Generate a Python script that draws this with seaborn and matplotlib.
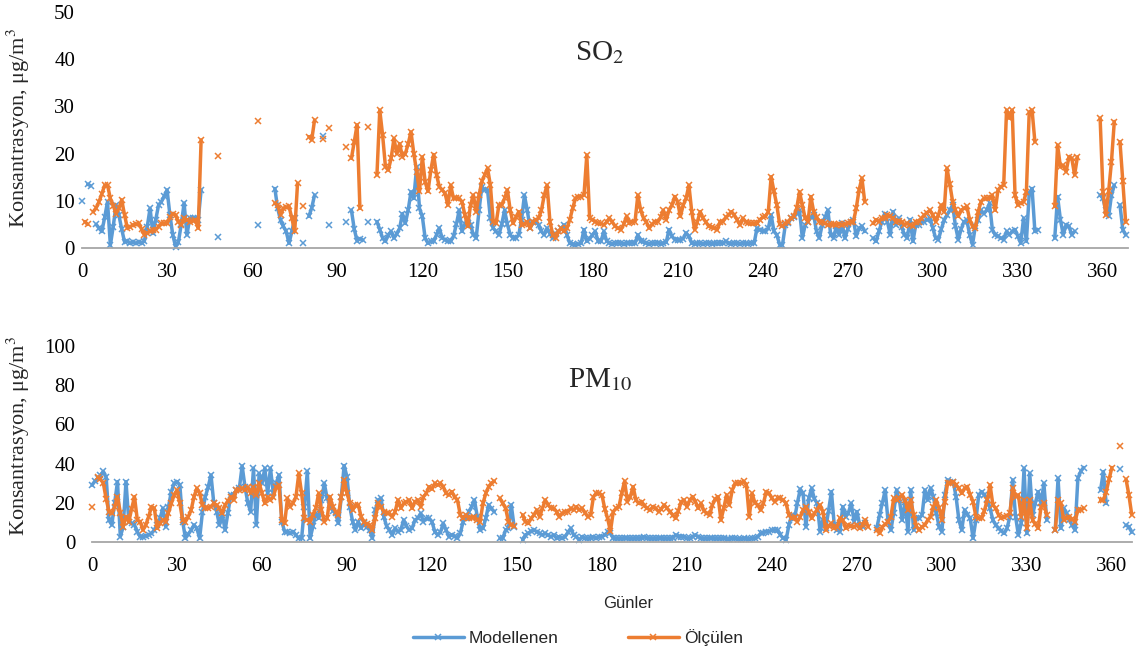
import numpy as np
import pandas as pd
import matplotlib
matplotlib.use("Agg")
import matplotlib.pyplot as plt
import seaborn as sns
from matplotlib.lines import Line2D

nan = np.nan

# ---------------- SO2 (days 0..368) ----------------
so2_model = [
    10, nan, 13.5, 13.2, nan, 5.0, 4.2, 3.5, 6.5, 9.8,
    0.6, 4.5, 9.1, 7.0, 4.0, 1.3, 1.5, 1.0, 1.2, 1.0,
    1.3, 1.0, 1.5, 4.5, 8.4, 3.1, 6.0, 9.1, 9.8, 11.0,
    12.3, 7.0, 2.8, 0.3, 1.3, 5.0, 9.5, 2.8, 6.3, 6.3,
    6.3, 6.0, 12.3, nan, nan, nan, nan, nan, 2.4, nan,
    nan, nan, nan, nan, nan, nan, nan, nan, nan, nan,
    nan, nan, 4.9, nan, nan, nan, nan, nan, 12.6, 8.4,
    5.9, 4.6, 3.5, 1.0, 3.5, 6.3, nan, nan, 1.0, nan,
    6.7, 8.5, 11.2, nan, nan, 23.7, nan, 4.9, nan, nan,
    nan, nan, nan, 5.6, nan, 8.0, 4.0, 1.5, 2.0, 1.7,
    nan, 5.6, nan, nan, 5.6, 3.9, 2.1, 1.4, 2.8, 3.5,
    2.1, 3.0, 4.2, 7.3, 5.2, 8.0, 11.9, 10.5, 17.2, 8.4,
    6.7, 2.1, 1.0, 1.4, 1.4, 2.8, 4.2, 2.1, 1.8, 1.4,
    1.4, 2.5, 5.0, 8.0, 3.5, 5.0, 6.3, 4.9, 2.8, 2.1,
    8.0, 13.0, 12.3, 12.3, 6.3, 4.2, 3.5, 2.8, 5.0, 8.0,
    5.0, 2.8, 2.1, 2.1, 2.8, 6.0, 11.2, 8.0, 4.2, 5.6,
    5.6, 4.9, 3.5, 2.8, 4.2, 3.0, 2.1, 3.0, 3.5, 4.2,
    4.9, 2.8, 1.0, 0.8, 0.7, 0.8, 1.0, 3.9, 1.4, 2.0,
    2.8, 3.5, 1.4, 1.4, 3.5, 1.5, 1.0, 0.9, 1.0, 1.1,
    1.0, 0.9, 1.0, 1.0, 1.1, 1.0, 2.8, 1.4, 1.4, 1.0,
    0.9, 1.0, 1.0, 1.1, 0.9, 1.0, 1.2, 3.9, 2.5, 1.8,
    1.8, 1.8, 2.0, 3.2, 2.5, 1.0, 0.9, 1.0, 1.0, 0.9,
    1.0, 1.0, 0.9, 1.0, 1.0, 1.1, 1.0, 1.4, 1.0, 0.9,
    1.0, 1.0, 0.9, 1.0, 1.0, 0.9, 1.0, 1.0, 4.2, 3.9,
    3.5, 3.5, 4.2, 7.0, 3.5, 2.8, 0.7, 0.7, 4.9, 5.2,
    6.3, 6.5, 7.3, 8.0, 2.1, 4.9, 5.6, 6.5, 7.0, 3.5,
    2.1, 4.9, 6.5, 8.0, 2.8, 2.1, 4.6, 2.8, 5.2, 2.1,
    4.0, 5.6, 6.0, 2.5, 4.2, 4.6, 3.5, nan, nan, 2.1,
    1.4, 3.5, 5.5, 7.3, 5.6, 2.8, 7.7, 4.9, 6.3, 4.5,
    2.8, 2.1, 6.0, 1.4, 4.9, 4.9, 5.6, 5.6, 6.0, 6.3,
    4.2, 2.1, 1.8, 4.0, 5.9, 7.0, 8.0, 9.1, 4.6, 1.8,
    4.0, 5.6, 5.9, 2.8, 0.7, 4.6, 6.0, 8.0, 7.3, 8.0,
    9.5, 3.9, 2.8, 2.5, 2.1, 1.8, 3.5, 2.8, 3.5, 3.9,
    2.5, 1.0, 6.3, 1.4, 11.6, 12.6, 3.5, 3.9, nan, nan,
    nan, nan, nan, 2.1, 10.9, 6.0, 2.8, 4.9, 4.6, 2.8,
    3.5, nan, nan, nan, nan, nan, nan, nan, nan, 11.2,
    10.5, 8.0, 6.7, 11.2, 13.3, nan, 9.1, 3.9, 2.8,
]
so2_meas = [
    nan, 5.6, 5.0, nan, 7.7, 8.5, 9.8, 11.5, 13.3, 13.3,
    10.5, 9.0, 7.3, 8.4, 10.2, 7.0, 4.2, 4.5, 4.9, 5.0,
    5.2, 4.0, 2.8, 3.2, 3.5, 3.8, 3.9, 4.5, 5.2, 5.2,
    5.2, 6.5, 7.3, 7.0, 5.5, 4.9, 6.3, 6.0, 5.6, 5.8,
    6.0, 4.2, 22.9, nan, nan, nan, nan, nan, 19.5, nan,
    nan, nan, nan, nan, nan, nan, nan, nan, nan, nan,
    nan, nan, 26.9, nan, nan, nan, nan, nan, 9.5, 9.1,
    7.0, 8.4, 8.6, 8.8, 6.3, 3.5, 13.7, nan, 8.8, nan,
    23.6, 22.9, 27.1, nan, nan, 23.0, nan, 25.4, nan, nan,
    nan, nan, nan, 21.3, nan, 19.0, 22.5, 26.1, 8.4, nan,
    nan, 25.7, nan, nan, 15.5, 29.2, 23.9, 17.2, 16.5, 19.0,
    23.2, 20.0, 22.1, 19.3, 20.0, 22.0, 24.6, 20.0, 16.2, 12.0,
    19.3, 14.0, 12.0, 16.5, 19.8, 15.5, 13.0, 12.3, 11.6, 9.1,
    13.3, 10.5, 10.5, 10.5, 9.8, 7.0, 4.6, 9.1, 11.2, 7.7,
    11.2, 14.1, 15.5, 16.9, 13.3, 5.6, 5.2, 9.1, 9.1, 10.5,
    12.3, 8.0, 5.2, 6.5, 7.7, 4.9, 5.0, 5.6, 4.2, 5.6,
    6.0, 6.3, 8.0, 11.2, 13.3, 5.6, 2.8, 2.1, 3.5, 4.2,
    3.5, 4.2, 6.0, 8.4, 10.5, 10.9, 10.9, 11.2, 19.7, 6.3,
    6.0, 5.6, 5.2, 5.2, 4.9, 5.5, 6.3, 5.5, 4.6, 4.2,
    3.9, 5.0, 6.7, 5.2, 5.6, 5.6, 11.2, 8.0, 6.3, 5.5,
    4.2, 5.0, 5.6, 5.6, 6.5, 8.0, 6.0, 8.0, 9.1, 10.9,
    9.8, 6.7, 9.1, 10.5, 13.3, 7.7, 3.9, 5.6, 7.7, 6.3,
    5.5, 4.6, 4.4, 4.2, 3.9, 5.6, 5.6, 6.5, 7.0, 7.7,
    7.0, 6.0, 4.9, 6.3, 5.6, 5.2, 5.2, 5.2, 5.2, 6.0,
    6.5, 6.7, 7.7, 15.1, 12.0, 9.1, 5.0, 4.6, 5.2, 5.6,
    6.3, 6.7, 8.4, 11.9, 9.1, 6.3, 5.6, 10.9, 7.7, 6.5,
    5.6, 5.6, 5.2, 4.9, 5.0, 5.0, 4.9, 5.0, 4.9, 5.0,
    5.2, 5.6, 5.6, 8.4, 12.3, 14.8, 9.8, nan, nan, 5.2,
    6.0, 5.6, 6.3, 6.3, 7.0, 6.7, 6.3, 5.6, 5.8, 5.6,
    4.9, 5.2, 4.9, 4.6, 5.6, 5.6, 6.3, 7.0, 7.5, 8.0,
    7.0, 5.6, 7.0, 9.1, 7.7, 16.9, 13.5, 9.8, 8.0, 6.7,
    8.0, 8.4, 8.8, 6.0, 4.6, 4.2, 7.7, 9.8, 10.5, 10.5,
    10.5, 11.2, 8.0, 12.3, 13.0, 13.3, 29.2, 27.5, 29.2, 11.2,
    9.1, 9.5, 9.8, 11.9, 28.8, 29.2, 22.5, nan, nan, nan,
    nan, nan, nan, 8.8, 21.8, 17.2, 17.5, 16.2, 19.3, 19.0,
    15.5, 19.3, nan, nan, nan, nan, nan, nan, nan, 27.5,
    11.9, 7.0, 12.0, 18.3, 26.8, nan, 22.5, 14.1, 5.5,
]

# ---------------- PM10 (days 0..367) ----------------
pm10_model = [
    29.0, 31.0, 32.5, 34.0, 36.0, 33.0, 11.2, 8.7, 20.0, 30.8,
    2.7, 7.8, 30.8, 10.4, 9.5, 8.7, 5.3, 2.7, 2.7, 3.2,
    3.6, 4.4, 6.1, 8.7, 12.0, 17.2, 7.8, 18.0, 25.7, 29.9,
    30.8, 29.1, 10.4, 1.9, 4.0, 6.1, 8.7, 7.0, 1.9, 15.5,
    23.1, 28.0, 34.2, 19.7, 15.5, 8.7, 13.8, 6.1, 15.0, 24.0,
    24.0, 26.5, 27.4, 38.8, 28.2, 20.0, 15.5, 37.6, 8.7, 35.0,
    30.0, 37.6, 24.8, 37.6, 24.8, 30.0, 34.2, 10.4, 5.3, 5.3,
    4.4, 5.3, 3.5, 1.9, 1.9, 18.0, 36.0, 1.9, 8.0, 14.6,
    12.1, 21.4, 29.9, 22.3, 18.9, 16.0, 14.6, 9.5, 23.1, 39.0,
    33.3, 18.0, 10.4, 6.1, 10.4, 7.0, 9.5, 7.5, 6.1, 1.9,
    16.3, 21.4, 22.3, 12.9, 8.0, 6.1, 3.6, 7.0, 5.3, 6.1,
    11.2, 8.0, 6.1, 7.0, 11.2, 12.1, 14.6, 10.4, 12.0, 12.1,
    10.4, 5.3, 3.6, 5.0, 9.5, 6.1, 2.7, 3.6, 3.0, 1.9,
    4.4, 10.4, 12.1, 15.5, 18.0, 21.4, 12.9, 6.1, 7.0, 12.1,
    18.9, 17.0, 15.5, nan, 1.9, 1.9, 6.1, 7.0, 18.9, 7.8,
    nan, nan, 1.0, 3.6, 4.4, 5.5, 6.1, 5.3, 4.4, 3.6,
    4.4, 3.5, 2.7, 3.6, 1.9, 2.7, 1.9, 2.7, 5.0, 7.0,
    3.6, 2.7, 1.0, 2.7, 1.9, 1.9, 1.9, 2.7, 1.9, 2.7,
    2.7, 3.6, 5.0, 4.4, 1.9, 1.9, 1.8, 1.9, 2.0, 1.9,
    1.9, 1.8, 2.0, 2.0, 1.9, 2.7, 1.9, 1.9, 1.8, 1.9,
    1.9, 2.0, 1.9, 1.8, 1.9, 2.0, 3.6, 2.7, 2.7, 2.7,
    1.9, 1.9, 2.7, 3.6, 2.7, 1.9, 1.8, 1.9, 1.9, 2.0,
    1.9, 1.8, 1.9, 1.9, 1.7, 1.6, 1.9, 1.8, 1.6, 1.7,
    1.9, 1.7, 1.6, 1.8, 1.9, 2.7, 4.4, 4.8, 5.3, 5.3,
    6.1, 6.1, 6.1, 3.6, 1.9, 1.0, 8.7, 13.8, 12.1, 20.0,
    27.0, 24.8, 7.8, 22.3, 27.4, 22.0, 19.7, 5.3, 11.2, 7.0,
    16.0, 25.7, 8.7, 6.1, 5.3, 18.0, 12.9, 15.0, 19.7, 10.4,
    15.5, 8.7, 7.8, 9.5, nan, nan, nan, 7.0, 13.8, 20.0,
    26.5, 10.4, 6.1, 15.0, 26.5, 21.4, 11.2, 20.6, 5.3, 26.5,
    6.1, 12.1, 12.1, 13.8, 26.5, 21.4, 27.4, 23.1, 15.0, 7.8,
    5.3, 24.0, 31.6, 30.8, 30.8, 23.1, 11.2, 6.1, 16.3, 14.0,
    12.1, 1.9, 11.2, 24.0, 25.7, 24.0, 22.0, 17.2, 11.2, 8.7,
    7.0, 5.6, 4.4, 7.0, 13.0, 31.6, 13.0, 3.6, 9.5, 37.6,
    4.4, 35.0, 13.8, 20.0, 25.7, 19.7, 29.9, 11.2, nan, nan,
    6.1, 32.5, 7.0, 17.2, 14.6, 11.2, 8.5, 6.1, 32.5, 36.0,
    38.0, nan, nan, nan, nan, nan, 26.5, 35.9, 19.7, nan,
    nan, nan, nan, 37.0, nan, 8.5, 7.8, 5.0,
]
pm10_meas = [
    18.0, nan, 33.0, 32.0, 30.0, 22.0, 15.5, 14.6, 18.0, 23.1,
    15.0, 7.8, 12.9, 10.4, 17.0, 23.1, 11.2, 10.4, 6.1, 8.7,
    13.0, 18.0, 17.2, 7.0, 9.5, 11.2, 10.4, 15.0, 19.7, 24.0,
    26.5, 19.7, 11.2, 10.4, 13.0, 16.3, 23.1, 27.4, 24.8, 18.9,
    17.2, 17.6, 18.0, 19.7, 18.9, 17.2, 14.6, 18.9, 21.0, 23.1,
    21.4, 26.5, 26.5, 27.4, 26.5, 28.0, 25.0, 28.0, 24.0, 30.0,
    25.0, 19.7, 23.1, 21.4, 23.1, 28.0, 29.0, 11.2, 9.5, 22.3,
    18.0, 20.0, 23.1, 35.0, 24.8, 12.1, 11.2, 10.4, 14.0, 17.2,
    24.8, 16.3, 10.4, 12.1, 23.1, 18.0, 15.5, 13.8, 23.1, 31.6,
    24.8, 20.0, 16.3, 18.9, 18.9, 12.9, 10.4, 9.0, 8.7, 6.1,
    12.1, 19.7, 18.0, 15.5, 15.0, 14.6, 12.9, 15.5, 21.4, 17.2,
    19.7, 20.5, 21.4, 17.2, 20.6, 21.4, 18.0, 23.1, 24.8, 28.2,
    27.0, 29.9, 29.0, 30.0, 28.2, 24.8, 24.0, 25.7, 23.0, 21.4,
    13.8, 12.1, 13.8, 12.1, 12.5, 12.9, 11.2, 10.4, 19.7, 24.8,
    28.2, 30.0, 31.0, nan, 22.3, 19.7, 17.2, 10.4, 8.7, 8.0,
    nan, nan, 13.8, 10.4, 9.5, 12.0, 13.8, 16.3, 12.9, 17.2,
    21.4, 19.0, 17.2, 17.2, 15.5, 12.9, 14.6, 15.5, 15.5, 17.2,
    16.3, 18.0, 16.3, 17.2, 15.0, 12.9, 13.8, 23.0, 25.0, 24.8,
    24.0, 17.0, 12.0, 5.5, 15.5, 17.2, 18.0, 25.0, 31.0, 20.6,
    23.1, 28.2, 21.4, 19.7, 20.6, 18.5, 17.2, 16.3, 18.0, 17.2,
    15.5, 17.0, 18.9, 17.2, 15.5, 13.8, 12.1, 16.0, 20.6, 21.4,
    18.0, 21.4, 23.1, 20.6, 17.2, 19.7, 16.0, 14.6, 13.8, 18.9,
    22.0, 23.1, 11.2, 17.2, 24.0, 18.9, 26.5, 29.9, 30.0, 30.0,
    31.0, 29.1, 12.9, 24.8, 20.0, 18.9, 16.3, 19.7, 25.7, 24.8,
    22.3, 20.6, 22.3, 22.3, 21.4, 19.7, 13.8, 12.1, 12.9, 10.4,
    13.0, 16.3, 18.0, 15.5, 12.1, 14.6, 16.5, 18.9, 15.5, 6.1,
    8.0, 9.5, 7.0, 7.8, 12.1, 11.2, 7.0, 8.7, 8.0, 7.8,
    8.7, 7.0, 8.7, 11.2, 7.8, nan, nan, 6.1, 4.4, 7.8,
    9.0, 10.4, 12.9, 22.3, 21.4, 22.5, 24.0, 21.4, 16.3, 21.4,
    14.0, 8.0, 6.1, 7.8, 8.7, 11.2, 12.9, 18.0, 21.4, 17.2,
    11.2, 20.6, 29.9, 29.9, 30.8, 29.1, 27.4, 24.8, 27.4, 28.2,
    24.0, 20.6, 13.0, 12.1, 12.1, 16.0, 21.4, 29.1, 18.9, 17.2,
    13.8, 12.1, 13.0, 13.5, 14.6, 27.4, 23.1, 24.0, 13.0, 21.4,
    7.0, 21.4, 11.2, 9.0, 7.0, 17.9, 19.7, 13.8, nan, nan,
    6.1, 21.4, 19.7, 11.2, 12.1, 13.0, 11.5, 10.4, 16.3, 16.3,
    17.2, nan, nan, nan, nan, nan, 21.4, 21.4, 25.7, 32.0,
    38.0, nan, nan, 49.0, nan, 32.0, 24.0, 14.0,
]

series_names = ["Modellenen", "Ölçülen"]
palette = {"Modellenen": "#5B9BD5", "Ölçülen": "#ED7D31"}
x_ticks = [0, 30, 60, 90, 120, 150, 180, 210, 240, 270, 300, 330, 360]
so2_yticks = [0, 10, 20, 30, 40, 50]
pm10_yticks = [0, 20, 40, 60, 80, 100]


def to_long(model, meas):
    rows = []
    for name, vals in zip(series_names, (model, meas)):
        seg = 0
        gap = True
        for d, v in enumerate(vals):
            if v is None or np.isnan(v):
                gap = True
                continue
            if gap:
                seg += 1
            gap = False
            rows.append((name, d, v, f"{name}-{seg}"))
    return pd.DataFrame(rows, columns=["series", "day", "value", "segment"])


sns.set_theme(style="white")
plt.rcParams["font.family"] = ["Liberation Serif", "DejaVu Serif"]
plt.rcParams["mathtext.fontset"] = "stix"

W, H = 1141, 656
fig = plt.figure(figsize=(W / 100, H / 100), dpi=100)

ax1 = fig.add_axes([82 / W, 1 - 248 / H, (369 * 2.836) / W, 236 / H])
ax2 = fig.add_axes([92 / W, 1 - 542 / H, (367 * 2.833) / W, 196 / H])

for ax, model, meas, xmax, ymax, yt, ypad in (
    (ax1, so2_model, so2_meas, 369, 50, so2_yticks, 5),
    (ax2, pm10_model, pm10_meas, 367, 100, pm10_yticks, 12),
):
    df = to_long(model, meas)
    sns.lineplot(
        data=df, x="day", y="value", hue="series", units="segment",
        estimator=None, hue_order=series_names, palette=palette,
        marker="x", markersize=4, linewidth=2.5,
        legend=False, ax=ax, sort=True,
    )
    for ln in ax.lines:
        ln.set_clip_on(False)
        ln.set_markeredgecolor(ln.get_color())
        ln.set_markerfacecolor(ln.get_color())
        ln.set_markeredgewidth(1.1)
    ax.set_xlim(0, xmax)
    ax.set_ylim(0, ymax)
    ax.set_xticks(x_ticks)
    ax.set_yticks(yt)
    ax.set_xlabel("")
    ax.set_ylabel("")
    for s in ("top", "right", "left"):
        ax.spines[s].set_visible(False)
    ax.spines["bottom"].set_color("#A6A6A6")
    ax.spines["bottom"].set_linewidth(1.3)
    ax.tick_params(axis="both", length=0, labelsize=15, colors="black")
    ax.tick_params(axis="x", pad=11)
    ax.tick_params(axis="y", pad=ypad)
    ax.grid(False)
    ax.set_facecolor("none")

fig.text(18 / W, 1 - 128 / H, "Konsantrasyon, μg/m$^3$", rotation=90,
         ha="center", va="center", fontsize=16)
fig.text(18 / W, 1 - 436 / H, "Konsantrasyon, μg/m$^3$", rotation=90,
         ha="center", va="center", fontsize=16)
fig.text(600 / W, 1 - 53 / H, "SO$_2$", ha="center", va="center", fontsize=21)
fig.text(600 / W, 1 - 380 / H, "PM$_{10}$", ha="center", va="center", fontsize=21)

fig.text(628 / W, 1 - 604 / H, "Günler", ha="center", va="center",
         fontsize=12, family=["Liberation Sans", "DejaVu Sans"])

handles = [Line2D([0], [0], color=palette[n], lw=2.5, marker="x",
                  markersize=4, markeredgewidth=1.1) for n in series_names]
fig.legend(handles, series_names, loc="center", bbox_to_anchor=(578 / W, 1 - 638 / H),
           ncol=2, frameon=False, handlelength=2.9, columnspacing=4.0,
           handletextpad=0.3, prop={"family": "Liberation Sans", "size": 12.5})

fig.savefig("out.png", dpi=100)
